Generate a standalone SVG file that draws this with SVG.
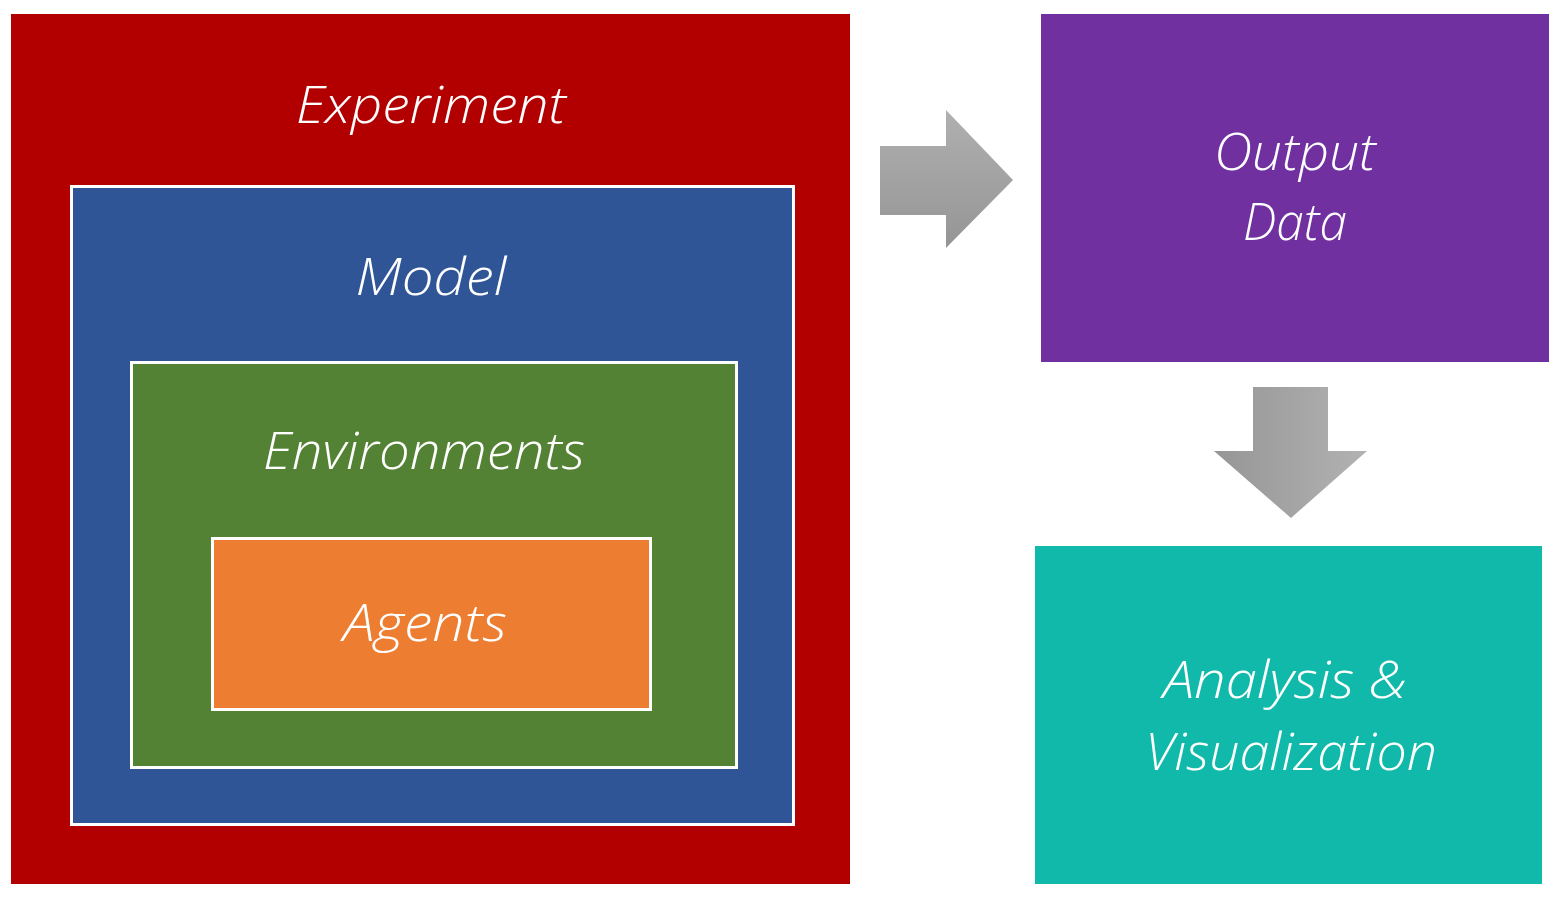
<svg xmlns="http://www.w3.org/2000/svg" width="1560" height="898" viewBox="0 0 1560 898">
<defs>
<linearGradient id="gR" x1="0" y1="0" x2="0" y2="1">
<stop offset="0" stop-color="#b0b0b0"/><stop offset="1" stop-color="#959595"/>
</linearGradient>
<linearGradient id="gD" x1="0" y1="0" x2="1" y2="0">
<stop offset="0" stop-color="#969696"/><stop offset="1" stop-color="#b2b2b2"/>
</linearGradient>
<style>
.t{font-family:"Open Sans","Liberation Sans",sans-serif;font-weight:300;font-style:italic;font-size:52px;fill:#fff;text-anchor:middle}
.b{stroke:#fff;stroke-width:3}
</style>
</defs>
<rect width="1560" height="898" fill="#fff"/>
<g id="experiment">
<rect x="11" y="14" width="839" height="870" fill="#b20000"/>
<text class="t" x="431" y="123" textLength="270" lengthAdjust="spacingAndGlyphs">Experiment</text>
</g>
<g id="model">
<rect class="b" x="71.5" y="186.5" width="722" height="638" fill="#2f5597"/>
<text class="t" x="431" y="295" textLength="151" lengthAdjust="spacingAndGlyphs">Model</text>
</g>
<g id="environments">
<rect class="b" x="131.5" y="362.5" width="605" height="405" fill="#548235"/>
<text class="t" x="424" y="469" textLength="322" lengthAdjust="spacingAndGlyphs">Environments</text>
</g>
<g id="agents">
<rect class="b" x="212.5" y="538.5" width="438" height="171" fill="#ed7d31"/>
<text class="t" x="425" y="641" textLength="164" lengthAdjust="spacingAndGlyphs">Agents</text>
</g>
<g id="output">
<rect x="1041" y="14" width="508" height="348" fill="#7030a0"/>
<text class="t" x="1295" y="170" textLength="162" lengthAdjust="spacingAndGlyphs">Output</text>
<text class="t" x="1295" y="240" textLength="104" lengthAdjust="spacingAndGlyphs">Data</text>
</g>
<g id="analysis">
<rect x="1035" y="546" width="507" height="338" fill="#10b9a9"/>
<text class="t" x="1285" y="698" textLength="244" lengthAdjust="spacingAndGlyphs">Analysis &amp;</text>
<text class="t" x="1291" y="770" textLength="292" lengthAdjust="spacingAndGlyphs">Visualization</text>
</g>
<g id="connectors">
<polygon points="880,146 946,146 946,110 1013,180 946,248 946,215 880,215" fill="url(#gR)"/>
<polygon points="1253,387 1328,387 1328,451 1367,451 1291,518 1214,451 1253,451" fill="url(#gD)"/>
</g>
</svg>
